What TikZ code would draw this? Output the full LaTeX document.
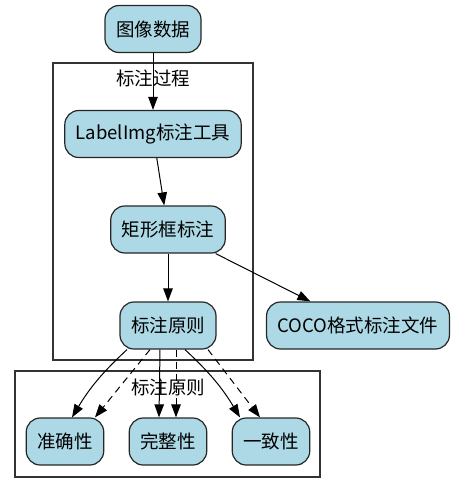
\documentclass[tikz,border=0pt]{standalone}
\usepackage{fontspec}
\setmainfont{Noto Sans CJK SC}
\usetikzlibrary{arrows.meta}
\definecolor{azul}{RGB}{173,216,230}
\tikzset{
	caixa/.style={draw=black!85, line width=1.2pt, fill=azul, rounded corners=14pt,
		minimum height=47pt, inner xsep=11pt, font=\fontsize{18.5pt}{22pt}\selectfont},
	grupo/.style={draw=black!80, line width=1.2pt},
	rotulo/.style={inner sep=0pt, font=\fontsize{18.5pt}{22pt}\selectfont},
	seta/.style={-{Triangle[length=13pt,width=9.5pt]}, line width=1pt},
	tracejada/.style={seta, dash pattern=on 7pt off 5pt}
}
\begin{document}
\begin{tikzpicture}[x=1pt, y=-1pt]
\useasboundingbox (0,0) rectangle (459,493);

% Grupos
\draw[grupo] (53,63) rectangle (253,360);
\node[rotulo] (G1) at (153,78) {标注过程};
\draw[grupo] (15,371) rectangle (320,477);
\node[rotulo] (G2) at (168,387) {标注原则};

% Nos
\node[caixa] (img) at (153,29) {图像数据};
\node[caixa] (ferr) at (153,134) {LabelImg标注工具};
\node[caixa] (ret) at (168,229.5) {矩形框标注};
\node[caixa] (pr) at (168,325.5) {标注原则};
\node[caixa] (coco) at (358,325.5) {COCO格式标注文件};
\foreach \n/\x/\t in {acc/65/准确性, comp/168/完整性, cons/271/一致性}
	\node[caixa] (\n) at (\x,441.5) {\t};

% Arestas
\draw[seta] (img) -- (ferr);
\draw[seta] (ferr) -- (ret);
\draw[seta] (ret) -- (pr);
\draw[seta] (ret) -- (coco);

\draw[seta] ([xshift=-41pt]pr.south) to[bend right=8] ([xshift=7pt]acc.north);
\draw[tracejada] ([xshift=-18pt]pr.south) -- ([xshift=30pt]acc.north);
\draw[seta] ([xshift=-8pt]pr.south) -- ([xshift=-9pt]comp.north);
\draw[tracejada] ([xshift=8pt]pr.south) -- ([xshift=8pt]comp.north);
\draw[seta] ([xshift=17pt]pr.south) to[bend left=8] ([xshift=-31pt]cons.north);
\draw[tracejada] ([xshift=40pt]pr.south) -- ([xshift=-11pt]cons.north);
\end{tikzpicture}
\end{document}
